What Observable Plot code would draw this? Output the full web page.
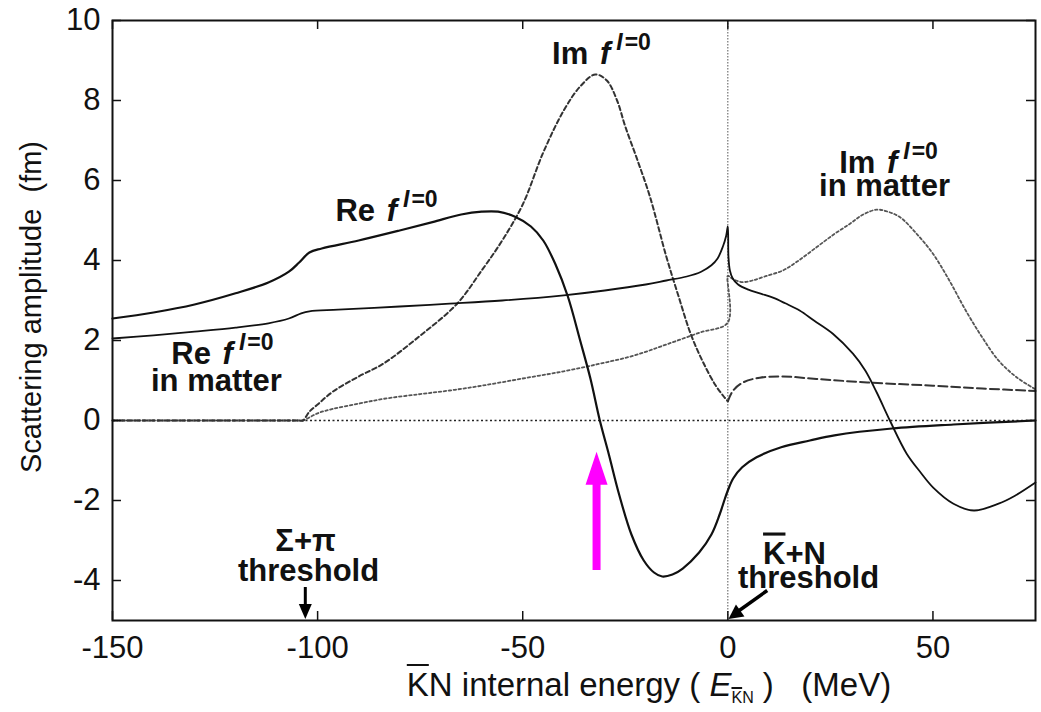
<!DOCTYPE html>
<html>
<head>
<meta charset="utf-8">
<script src="https://cdn.jsdelivr.net/npm/d3@7"></script>
<script src="https://cdn.jsdelivr.net/npm/@observablehq/plot@0.6"></script>
<style>
  html, body { margin: 0; padding: 0; background: #fff; }
  body { width: 1041px; height: 712px; position: relative; overflow: hidden;
         font-family: "Liberation Sans", Arial, Helvetica, sans-serif; }
  #chart svg { display: block; }
  #xlabel { position: absolute; left: 0; top: 667px; width: 1041px; box-sizing: border-box;
            padding-left: 257px; text-align: center; font-size: 33px; line-height: 36px; color: #111; white-space: pre; }
  #xlabel .ob { text-decoration: overline; text-decoration-thickness: 2px; }
  #xlabel sub { font-size: 16px; vertical-align: -7px; }
</style>
</head>
<body>
<div id="chart"></div>
<div id="xlabel"><span class="ob">K</span>N internal energy ( <i>E</i><sub><span class="ob">K</span>N</sub> )   (MeV)</div>
<script>
// ---------- data ----------
const xTicks = [-150, -100, -50, 0, 50];
const yTicks = [-4, -2, 0, 2, 4, 6, 8, 10];

// Re f(I=0), free space (solid)
const reFree = [
  [-150,2.55],[-140,2.7],[-130,2.9],[-120,3.18],[-112,3.45],[-107,3.72],[-104.5,3.95],[-102,4.2],
  [-99,4.3],[-90,4.5],[-80,4.75],[-72,4.96],[-65,5.15],[-60,5.22],[-56,5.22],[-52,5.1],[-48,4.85],
  [-45,4.5],[-42,3.9],[-39,3.1],[-36,2.0],[-33.5,1.05],[-31.2,0.0],[-29,-0.85],[-26.5,-1.85],
  [-23.5,-2.85],[-20.5,-3.5],[-18,-3.8],[-16,-3.9],[-13.5,-3.85],[-11,-3.7],[-7,-3.3],[-4,-2.85],
  [-2,-2.35],[-0.7,-1.95],[0,-1.75],[1.3,-1.45],[3.5,-1.17],[7,-0.92],[13,-0.67],[20,-0.5],
  [26,-0.37],[40,-0.2],[55,-0.1],[75,0.0]
];
// Re f(I=0) in matter (solid, thinner)
const reMatter = [
  [-150,2.05],[-140,2.13],[-130,2.22],[-120,2.32],[-112,2.43],[-107,2.55],[-104,2.68],[-102,2.73],
  [-95,2.77],[-80,2.85],[-67.8,2.92],[-55,3.0],[-40,3.13],[-30,3.25],[-20,3.4],[-15,3.5],[-10,3.6],
  [-6.5,3.72],[-4,3.88],[-2.5,4.05],[-1.2,4.35],[-0.4,4.62],[0,4.85],[0.15,4.1],[0.5,3.75],
  [1.2,3.55],[2.5,3.4],[5,3.27],[8,3.17],[11,3.07],[14,2.93],[17.5,2.75],[21,2.5],[25.6,2.17],
  [30.5,1.67],[33.5,1.25],[36.3,0.7],[39.5,0],[43.6,-0.83],[47,-1.3],[50,-1.67],[55,-2.08],
  [60,-2.25],[66,-2.08],[70,-1.88],[75,-1.55]
];
// Im f(I=0), free space (dashed) below and above the KbarN threshold
const imFree = [
  [-150,0],[-140,0],[-130,0],[-120,0],[-110,0],[-106,0],[-104.5,0],[-103.6,0],[-102,0.22],[-100,0.4],
  [-96.3,0.72],[-90,1.1],[-84,1.42],[-75,2.12],[-66,2.92],[-60,3.75],[-55,4.5],[-50,5.4],[-45,6.7],
  [-40,7.75],[-36,8.35],[-32.3,8.65],[-29.5,8.5],[-27,8.0],[-25,7.35],[-22,6.5],[-19,5.6],[-15,4.1],
  [-12,3.1],[-9,2.15],[-6,1.45],[-3,0.88],[-1,0.6],[0,0.48]
];
const imFreeAbove = [
  [0,0.48],[1.3,0.75],[3.7,0.95],[7.8,1.07],[13.4,1.1],[21.6,1.04],[34,0.95],[50,0.87],[62,0.8],[75,0.74]
];
// Im f(I=0) in matter (dotted)
const imMatter = [
  [-150,0],[-140,0],[-130,0],[-120,0],[-110,0],[-106,0],[-104.5,0],[-103.6,0],[-100,0.18],[-96.3,0.29],
  [-90,0.42],[-84,0.54],[-75,0.66],[-67.8,0.75],[-60,0.87],[-50,1.05],[-40,1.23],[-31.2,1.42],[-23,1.62],
  [-15,1.9],[-6.8,2.2],[0,2.45],[0,3.62],[0.6,3.58],[2,3.5],[3.7,3.46],[6,3.5],[9,3.6],[13.4,3.75],
  [17,3.98],[21.6,4.33],[25.8,4.65],[29.8,4.92],[33,5.15],[36.3,5.27],[39,5.22],[42,5.08],[46,4.67],
  [50,4.17],[54,3.5],[58,2.75],[62,2.08],[66,1.5],[70.4,1.08],[75,0.78]
];

// annotation anchors (data coordinates) and texts
const imFreeLabel = {x: -30.8, y: 8.925, key: "Im f I=0"};
const reFreeLabel = {x: -83.2, y: 5.0, key: "Re f I=0"};
const reMatterLabel = {x: -123.2, y: 1.425, key: "Re f I=0 in matter"};
const imMatterLabel = {x: 39.17, y: 6.2, key: "Im f I=0 in matter"};
const sigmaLabel = {x: -102.95, y: -3.25, key: "Σ+π threshold"};
const kbarLabel = {x: 16.25, y: -3.575, key: "K+N threshold"};
const sigmaArrow = {x: -103, from: -4.175, to: -4.96};
const kbarArrow = {x1: 9.6, y1: -4.25, x2: 0.15, y2: -4.96};
const magentaArrow = {x: -32, from: -3.75, to: -0.78};
const yLabel = "Scattering amplitude  (fm)";

// ---------- helpers ----------
const rows = a => a.map(([E, v]) => ({E, v}));
const fam = '"Liberation Sans", Arial, Helvetica, sans-serif';
const ann = {fontFamily: fam, fontWeight: "bold", fill: "#111"};

const headUp = {draw(c) { c.moveTo(0, 0); c.lineTo(11, 33); c.lineTo(-11, 33); c.closePath(); }};
const headDown = {draw(c) { c.moveTo(0, 0); c.lineTo(6.5, -15); c.lineTo(-6.5, -15); c.closePath(); }};
const headDiag = {draw(c) { c.moveTo(0, 0); c.lineTo(16, -2.5); c.lineTo(7.5, -14.5); c.closePath(); }};

// rich-text layout of labels (pixel offsets are styling)
const fSup = base => [{t: base + " "}, {t: "f", it: true, dx: 3}, {t: "I", it: true, sup: true, dx: 6}, {t: "=0", sup: true, dx: 2}];
const richLayouts = [
  {label: imFreeLabel, lines: [{dx: 0, dy: 0, segs: fSup("Im")}]},
  {label: reFreeLabel, lines: [{dx: 0, dy: 0, segs: fSup("Re")}]},
  {label: reMatterLabel, lines: [{dx: 0, dy: 0, segs: fSup("Re")}, {dx: -6, dy: 27, segs: [{t: "in matter"}]}]},
  {label: imMatterLabel, lines: [{dx: 0, dy: 0, segs: fSup("Im")}, {dx: -4, dy: 23, segs: [{t: "in matter"}]}]},
  {label: sigmaLabel, lines: [{dx: 0, dy: 0, segs: [{t: "Σ+π"}]}, {dx: 3, dy: 30, segs: [{t: "threshold"}]}]},
  {label: kbarLabel, lines: [{dx: 0, dy: 0, segs: [{t: "K", ob: true}, {t: "+N"}]}, {dx: 14, dy: 24, segs: [{t: "threshold"}]}]}
];
const labelMarks = richLayouts.map(({label}) =>
  Plot.text([label], {x: "x", y: "y", text: "key", textAnchor: "middle", lineAnchor: "bottom", fontSize: 31, ...ann}));

function buildRich(el, lines) {
  const NS = "http://www.w3.org/2000/svg";
  el.textContent = "";
  for (const line of lines) {
    let up = false;
    line.segs.forEach((s, i) => {
      const ts = document.createElementNS(NS, "tspan");
      if (i === 0) { ts.setAttribute("x", line.dx); ts.setAttribute("y", line.dy); }
      if (s.sup && !up) { ts.setAttribute("dy", -14); up = true; }
      else if (!s.sup && up) { ts.setAttribute("dy", 14); up = false; }
      if (s.dx) ts.setAttribute("dx", s.dx);
      if (s.it) ts.setAttribute("font-style", "italic");
      if (s.sup) ts.setAttribute("font-size", 23);
      if (s.ob) ts.setAttribute("text-decoration", "overline");
      ts.textContent = s.t;
      el.appendChild(ts);
    });
  }
}

const W = 1041, H = 668;
const chart = Plot.plot({
  width: W, height: H,
  marginLeft: 112, marginRight: 6, marginTop: 20, marginBottom: H - 620,
  x: {domain: [-150, 75], label: null},
  y: {domain: [-5, 10], label: null},
  style: {fontFamily: fam, fontSize: "31px", color: "#111", background: "#fff"},
  marks: [
    // reference lines
    Plot.ruleY([0], {stroke: "#222", strokeWidth: 1.3, strokeDasharray: "2,2.5"}),
    Plot.ruleX([0], {stroke: "#555", strokeWidth: 1, strokeDasharray: "1.5,1.5"}),
    // curves
    Plot.line(rows(imMatter), {x: "E", y: "v", stroke: "#555", strokeWidth: 1.8, strokeDasharray: "2.5,2.5", curve: "catmull-rom"}),
    Plot.line(rows(imFree), {x: "E", y: "v", stroke: "#333", strokeWidth: 2, strokeDasharray: "4.5,3", curve: "catmull-rom"}),
    Plot.line(rows(imFreeAbove), {x: "E", y: "v", stroke: "#333", strokeWidth: 2, strokeDasharray: "9,4", curve: "catmull-rom"}),
    Plot.line(rows(reMatter), {x: "E", y: "v", stroke: "#111", strokeWidth: 1.8, curve: "catmull-rom"}),
    Plot.line(rows(reFree), {x: "E", y: "v", stroke: "#111", strokeWidth: 2.2, curve: "catmull-rom"}),
    // frame, inward ticks on all sides
    Plot.frame({stroke: "#111", strokeWidth: 2}),
    Plot.tickX(xTicks, {stroke: "#111", strokeWidth: 1.5, insetTop: 591}),
    Plot.tickX(xTicks, {stroke: "#111", strokeWidth: 1.5, insetBottom: 591}),
    Plot.tickY(yTicks, {stroke: "#111", strokeWidth: 1.5, insetRight: 914}),
    Plot.tickY(yTicks, {stroke: "#111", strokeWidth: 1.5, insetLeft: 914}),
    Plot.axisX(xTicks, {tickSize: 0, tickPadding: 15, tickFormat: d => String(d), label: null, fontSize: 31}),
    Plot.axisY(yTicks, {tickSize: 0, tickPadding: 12, tickFormat: d => String(d), label: null, fontSize: 31}),
    Plot.text([yLabel], {text: d => d, frameAnchor: "left", textAnchor: "middle", lineAnchor: "middle", dx: -81, dy: -13.5, rotate: -90, fontSize: 29, fontFamily: fam, fill: "#111"}),
    // curve and threshold labels
    ...labelMarks,
    // threshold arrows
    Plot.ruleX([sigmaArrow], {x: "x", y1: "from", y2: d => d.to + 0.3, stroke: "#000", strokeWidth: 3}),
    Plot.dot([sigmaArrow], {x: "x", y: "to", symbol: headDown, fill: "#000", stroke: null}),
    Plot.link([kbarArrow], {x1: "x1", y1: "y1", x2: d => d.x2 + 2.2, y2: d => d.y2 + 0.18, stroke: "#000", strokeWidth: 3.5}),
    Plot.dot([kbarArrow], {x: "x2", y: "y2", symbol: headDiag, fill: "#000", stroke: null}),
    // magenta arrow
    Plot.ruleX([magentaArrow], {x: "x", y1: "from", y2: d => d.to - 0.72, stroke: "#ff00ff", strokeWidth: 8}),
    Plot.dot([magentaArrow], {x: "x", y: "to", symbol: headUp, fill: "#ff00ff", stroke: null})
  ]
});

// turn the placeholder label texts into rich text (italic f, superscripts, overbar, two lines)
const texts = Array.from(chart.querySelectorAll("text"));
for (const {label, lines} of richLayouts) {
  const el = texts.find(t => t.textContent === label.key);
  if (el) buildRich(el, lines);
}
document.getElementById("chart").appendChild(chart);
</script>
</body>
</html>
